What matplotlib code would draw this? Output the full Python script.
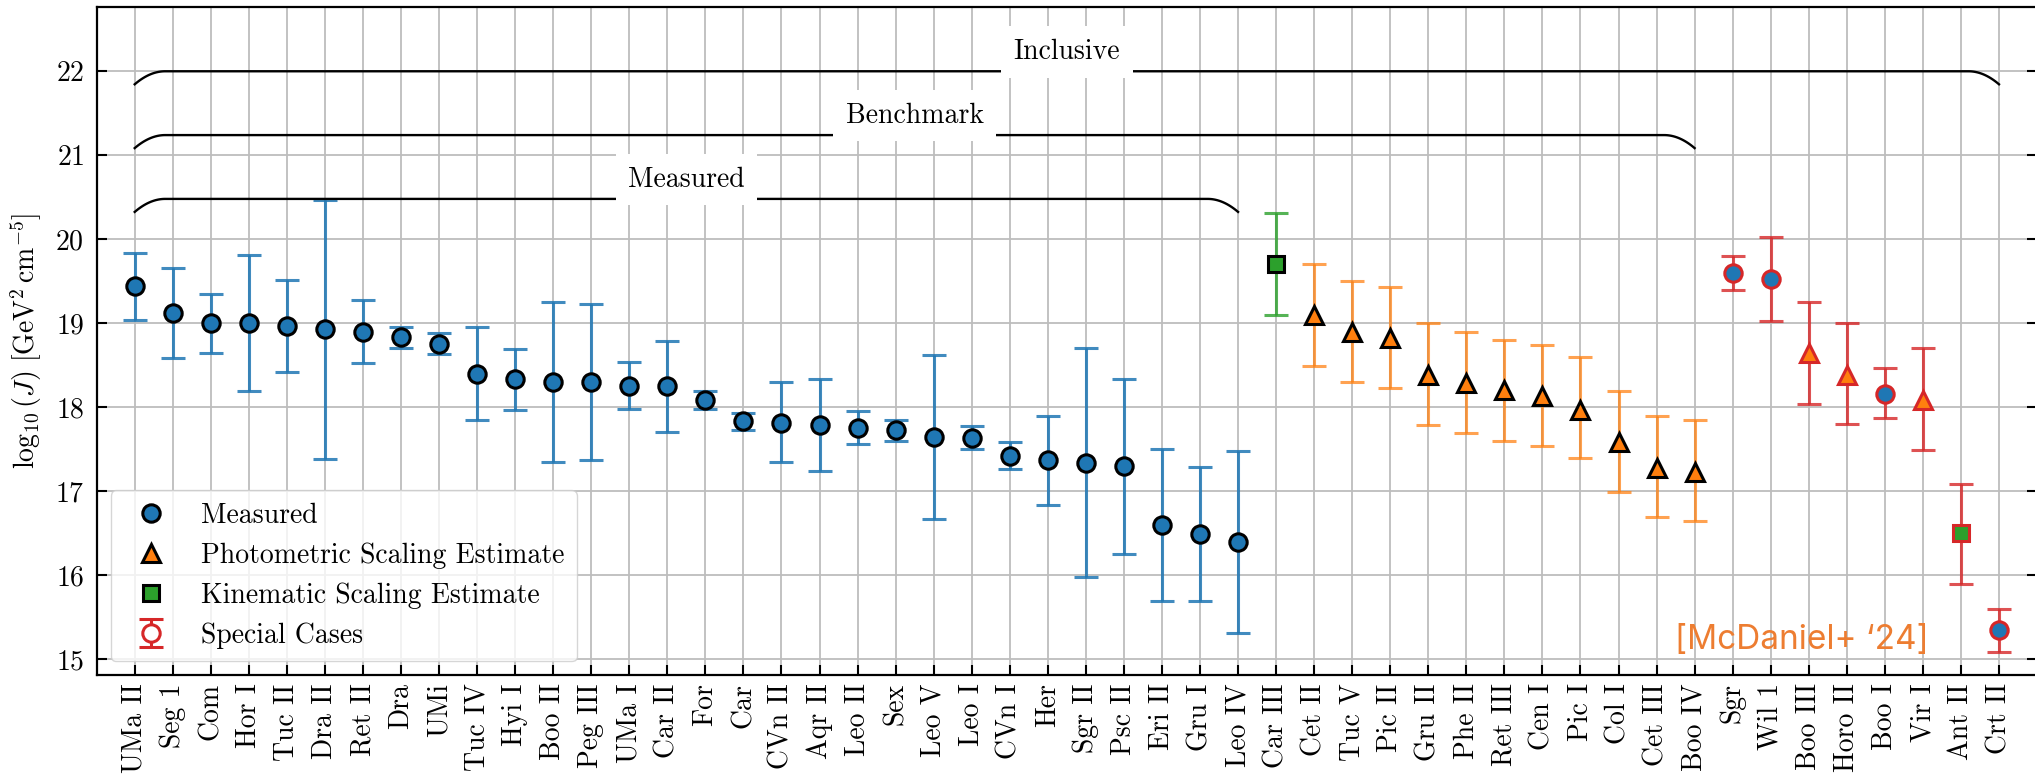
import numpy as np
import matplotlib
matplotlib.use("Agg")
import matplotlib.pyplot as plt
from matplotlib.lines import Line2D

plt.rcParams["font.family"] = "cmr10"
plt.rcParams["mathtext.fontset"] = "cm"
plt.rcParams["axes.formatter.use_mathtext"] = True
plt.rcParams["font.size"] = 20

# measured dwarfs: log10 J, lower and upper ends of the error bar
meas_names = ["UMa II", "Seg 1", "Com", "Hor I", "Tuc II", "Dra II", "Ret II", "Dra", "UMi",
              "Tuc IV", "Hyi I", "Boo II", "Peg III", "UMa I", "Car II", "For", "Car", "CVn II",
              "Aqr II", "Leo II", "Sex", "Leo V", "Leo I", "CVn I", "Her", "Sgr II", "Psc II",
              "Eri II", "Gru I", "Leo IV"]
meas_J = [19.44, 19.12, 19.00, 19.00, 18.97, 18.93, 18.90, 18.83, 18.75, 18.40, 18.33, 18.30,
          18.30, 18.25, 18.25, 18.08, 17.83, 17.81, 17.79, 17.75, 17.73, 17.64, 17.63, 17.42,
          17.37, 17.34, 17.30, 16.60, 16.49, 16.39]
meas_lo = [19.04, 18.58, 18.65, 18.19, 18.42, 17.38, 18.52, 18.71, 18.63, 17.85, 17.97, 17.35,
           17.37, 17.98, 17.70, 17.98, 17.73, 17.35, 17.24, 17.56, 17.60, 16.67, 17.50, 17.26,
           16.83, 15.98, 16.25, 15.69, 15.69, 15.31]
meas_hi = [19.84, 19.66, 19.35, 19.81, 19.51, 20.47, 19.28, 18.95, 18.88, 18.95, 18.69, 19.25,
           19.23, 18.54, 18.79, 18.19, 17.93, 18.30, 18.34, 17.96, 17.85, 18.62, 17.77, 17.58,
           17.90, 18.71, 18.34, 17.50, 17.29, 17.48]

# kinematic scaling estimate
kin_names = ["Car III"]
kin_J = [19.70]
kin_lo = [19.10]
kin_hi = [20.31]

# photometric scaling estimates
phot_names = ["Cet II", "Tuc V", "Pic II", "Gru II", "Phe II", "Ret III", "Cen I", "Pic I",
              "Col I", "Cet III", "Boo IV"]
phot_J = [19.10, 18.89, 18.82, 18.38, 18.29, 18.20, 18.13, 17.97, 17.58, 17.28, 17.23]
phot_lo = [18.49, 18.30, 18.23, 17.79, 17.69, 17.60, 17.54, 17.40, 16.99, 16.69, 16.64]
phot_hi = [19.70, 19.50, 19.43, 19.00, 18.90, 18.80, 18.74, 18.60, 18.19, 17.90, 17.85]

# special cases, with the kind of estimate for each
spec_names = ["Sgr", "Wil 1", "Boo III", "Horo II", "Boo I", "Vir I", "Ant II", "Crt II"]
spec_kind = ["meas", "meas", "phot", "phot", "meas", "phot", "kin", "meas"]
spec_J = [19.60, 19.53, 18.64, 18.38, 18.16, 18.08, 16.50, 15.35]
spec_lo = [19.40, 19.03, 18.04, 17.80, 17.87, 17.49, 15.89, 15.08]
spec_hi = [19.80, 20.03, 19.25, 19.00, 18.47, 18.70, 17.09, 15.60]

blue, orange, green, red = "#1f77b4", "#ff7f0e", "#2ca02c", "#d62728"
kind_style = {"meas": ("o", blue, 12.5), "phot": ("^", orange, 13), "kin": ("s", green, 11.5)}

fig = plt.figure(figsize=(20.35, 7.79), dpi=100)
ax = fig.add_axes([0.0475, 0.1335, 0.9535, 0.858])

n_meas, n_kin, n_phot = len(meas_names), len(kin_names), len(phot_names)
x_meas = np.arange(n_meas)
x_kin = np.arange(n_kin) + n_meas
x_phot = np.arange(n_phot) + n_meas + n_kin
x_spec = np.arange(len(spec_names)) + n_meas + n_kin + n_phot


def draw_group(x, J, lo, hi, kinds, bar_color, edge, alpha=0.85):
    J, lo, hi = np.array(J), np.array(lo), np.array(hi)
    ax.errorbar(x, J, yerr=[J - lo, hi - J], fmt="none", ecolor=bar_color, alpha=alpha,
                elinewidth=2.2, capsize=8.5, capthick=2.2, zorder=3)
    for k in set(kinds):
        m, face, ms = kind_style[k]
        sel = np.array([kk == k for kk in kinds])
        ax.plot(x[sel], J[sel], ls="none", marker=m, ms=ms, mfc=face, mec=edge, mew=2.2, zorder=4)


draw_group(x_meas, meas_J, meas_lo, meas_hi, ["meas"] * n_meas, blue, "black")
draw_group(x_kin, kin_J, kin_lo, kin_hi, ["kin"] * n_kin, green, "black", 0.8)
draw_group(x_phot, phot_J, phot_lo, phot_hi, ["phot"] * n_phot, orange, "black", 0.72)
draw_group(x_spec, spec_J, spec_lo, spec_hi, spec_kind, red, red, 0.8)


def bracket(x0, x1, y, label, drop=0.155, run=0.8):
    # rounded ends drawn as quadratic bezier curves
    t = np.linspace(0, 1, 40)
    bx = (1 - t) * t * run + t ** 2 * run
    by = -(1 - t) ** 2 * drop
    xs = np.concatenate([x0 + bx, x1 - bx[::-1]])
    ys = y + np.concatenate([by, by[::-1]])
    ax.plot(xs, ys, color="black", lw=1.7, zorder=5)
    ax.text((x0 + x1) / 2, y + 0.23, label, ha="center", va="center", zorder=6,
            bbox=dict(boxstyle="square,pad=0.45", fc="white", ec="none"))


bracket(0, x_meas[-1], 20.48, "Measured")
bracket(0, x_phot[-1], 21.24, "Benchmark")
bracket(0, x_spec[-1], 22.0, "Inclusive")

# legend
h_meas = Line2D([], [], ls="none", marker="o", ms=12.5, mfc=blue, mec="black", mew=2.2)
h_phot = Line2D([], [], ls="none", marker="^", ms=13, mfc=orange, mec="black", mew=2.2)
h_kin = Line2D([], [], ls="none", marker="s", ms=11.5, mfc=green, mec="black", mew=2.2)
h_spec = ax.errorbar([np.nan], [np.nan], yerr=[np.nan], fmt="o", ms=12.5, mfc="white", mec=red,
                     mew=2.2, ecolor=red, elinewidth=2.2, capsize=8.5, capthick=2.2)
ax.legend([h_meas, h_phot, h_kin, h_spec],
          ["Measured", "Photometric Scaling Estimate", "Kinematic Scaling Estimate", "Special Cases"],
          loc="lower left", labelspacing=0.48, borderpad=0.45)

ax.text(0.879, 0.053, "[McDaniel+ \u201824]", transform=ax.transAxes, ha="center", va="center",
        color="#ED7D31", fontsize=24, family="Inter", zorder=6)

all_names = meas_names + kin_names + phot_names + spec_names
ax.set_xticks(np.arange(len(all_names)))
ax.set_xticklabels(all_names, rotation=90)
ax.set_yticks(np.arange(15, 23))
ax.set_xlim(-1, 50)
ax.set_ylim(14.81, 22.77)
ax.set_ylabel(r"$\log_{10}(J)\ [\mathrm{GeV}^2\,\mathrm{cm}^{-5}]$", labelpad=8)

ax.grid(True, color="0.74", lw=1.3)
ax.set_axisbelow(True)
ax.tick_params(axis="both", direction="in", length=7, width=1.5)
ax.tick_params(axis="y", right=True, pad=9)
ax.tick_params(axis="x", top=False, pad=6)
for s in ax.spines.values():
    s.set_linewidth(1.6)

fig.savefig("out.png", dpi=100)
